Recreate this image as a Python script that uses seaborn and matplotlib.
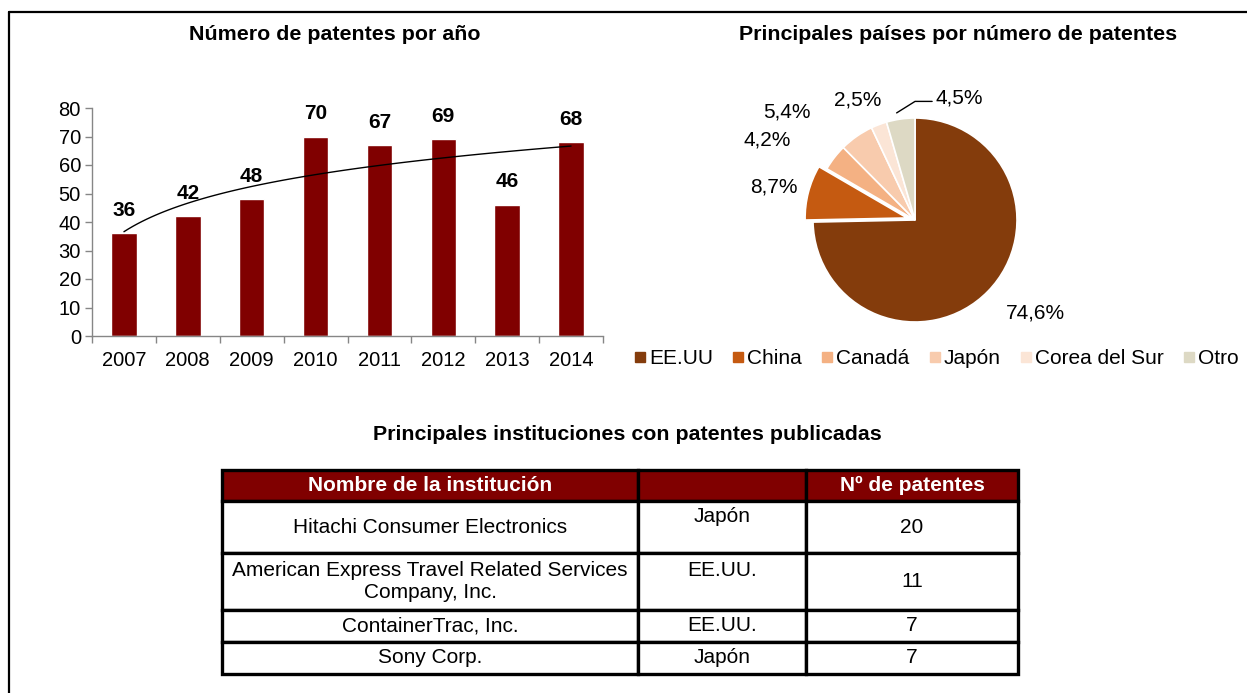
import numpy as np
import pandas as pd
import seaborn as sns
import matplotlib.pyplot as plt
from matplotlib.lines import Line2D

# Data
years = ['2007', '2008', '2009', '2010', '2011', '2012', '2013', '2014']
patents = [36, 42, 48, 70, 67, 69, 46, 68]

countries = ['EE.UU', 'China', 'Canadá', 'Japón', 'Corea del Sur', 'Otro']
country_share = [74.6, 8.7, 4.2, 5.4, 2.5, 4.5]
country_colors = ['#843C0C', '#C55A11', '#F4B183', '#F8CBAD', '#FBE5D6', '#DDD9C4']

inst_names = ['Hitachi Consumer Electronics',
              'American Express Travel Related Services\nCompany, Inc.',
              'ContainerTrac, Inc.', 'Sony Corp.']
inst_country = ['Japón', 'EE.UU.', 'EE.UU.', 'Japón']
inst_patents = [20, 11, 7, 7]
table_header = ['Nombre de la institución', '', 'Nº de patentes']

sns.set_theme(style="white")
plt.rcParams['font.family'] = ['Liberation Sans', 'DejaVu Sans']
plt.rcParams['text.color'] = 'black'

W, H = 1247, 693
fig = plt.figure(figsize=(W / 100, H / 100), dpi=100)

def box(l, t, w, h):
    return [l / W, 1 - (t + h) / H, w / W, h / H]

TITLE_FS = 15.4
FS = 15

# outer frame
fig.add_artist(Line2D([9 / W, 9 / W], [0, 1 - 12 / H], color='black', lw=1.6))
fig.add_artist(Line2D([9 / W, 1], [1 - 12 / H, 1 - 12 / H], color='black', lw=1.6))

# 1. Bar chart
df = pd.DataFrame({'year': years, 'patents': patents})
ax1 = fig.add_axes(box(92, 108, 511, 228))
sns.barplot(x='year', y='patents', data=df, color='#800000', width=0.4,
            saturation=1, ax=ax1)
ax1.set_xlim(-0.5, len(years) - 0.5)
ax1.set_ylim(0, 80)
ax1.set_yticks(range(0, 81, 10))
ax1.set_xlabel('')
ax1.set_ylabel('')
for s in ['top', 'right']:
    ax1.spines[s].set_visible(False)
for s in ['left', 'bottom']:
    ax1.spines[s].set_color('#868686')
    ax1.spines[s].set_linewidth(1)
ax1.set_xticks(np.arange(-0.5, len(years)), minor=True)
ax1.tick_params(axis='x', which='major', length=0, pad=11, labelsize=14.5, labelcolor='black')
ax1.tick_params(axis='x', which='minor', bottom=True, length=5, color='#868686', width=1)
ax1.tick_params(axis='y', left=True, length=5, color='#868686', width=1, pad=3,
                labelsize=14.5, labelcolor='black')
for i, v in enumerate(patents):
    ax1.annotate(str(v), (i, v), xytext=(0, 16.5), textcoords='offset points',
                 ha='center', va='center', fontsize=FS, fontweight='bold')

# logarithmic trend line
xi = np.arange(1, len(patents) + 1)
b, a = np.polyfit(np.log(xi), patents, 1)
xs = np.linspace(1, len(patents), 100)
ax1.plot(xs - 1, a + b * np.log(xs), color='black', lw=1)

fig.text(335 / W, 1 - 34 / H, 'Número de patentes por año', ha='center', va='center',
         fontsize=TITLE_FS, fontweight='bold')

# 2. Pie chart
R = 102
ax2 = fig.add_axes(box(915 - 150, 220 - 150, 300, 300))
explode = [0, 0.08, 0, 0, 0, 0]
wedges, _ = ax2.pie(country_share, colors=country_colors, startangle=90,
                    counterclock=False, explode=explode, radius=1,
                    wedgeprops=dict(edgecolor='white', linewidth=1.2))
lim = 150 / R
ax2.set_xlim(-lim, lim)
ax2.set_ylim(-lim, lim)
ax2.set_aspect('equal')
ax2.axis('off')

label_pos = [(1.18, -0.91), (-1.38, 0.32), (-1.45, 0.78), (-1.26, 1.06), (-0.56, 1.18)]
for v, (x, y) in zip(country_share[:5], label_pos):
    ax2.text(x, y, f'{v:.1f}%'.replace('.', ','), ha='center', va='center', fontsize=FS)
ax2.annotate(f'{country_share[5]:.1f}%'.replace('.', ','), xy=(-0.18, 1.05),
             xytext=(0.2, 1.2), ha='left', va='center', fontsize=FS,
             arrowprops=dict(arrowstyle='-', color='black', lw=1, shrinkA=0, shrinkB=0,
                             relpos=(0, 0.3),
                             connectionstyle='angle,angleA=0,angleB=32,rad=0'))

fig.text(958 / W, 1 - 34 / H, 'Principales países por número de patentes', ha='center',
         va='center', fontsize=TITLE_FS, fontweight='bold')

handles = [Line2D([], [], marker='s', ls='', color=c, markersize=7.5) for c in country_colors]
fig.legend(handles, countries, loc='center left', bbox_to_anchor=(634 / W, 1 - 359 / H),
           ncol=6, frameon=False, fontsize=FS, handlelength=0.6, handletextpad=0.12,
           columnspacing=0.92, borderpad=0, borderaxespad=0)

# 3. Table
fig.text(627 / W, 1 - 434 / H, 'Principales instituciones con patentes publicadas',
         ha='center', va='center', fontsize=TITLE_FS, fontweight='bold')

ax3 = fig.add_axes(box(222, 470, 796, 204))
ax3.axis('off')
cells = [[n, c + '\n', str(p)] for n, c, p in zip(inst_names, inst_country, inst_patents)]
tbl = ax3.table(cellText=cells, colLabels=table_header, cellLoc='center',
                bbox=[0, 0, 1, 1])
tbl.auto_set_font_size(False)
col_w = [416, 168, 212]
row_h = [31, 52, 56, 32, 32]
for (r, c), cell in tbl.get_celld().items():
    cell.set_width(col_w[c])
    cell.set_height(row_h[r])
    cell.set_edgecolor('black')
    cell.set_linewidth(2.4)
    cell.get_text().set_fontsize(FS)
    cell.get_text().set_color('black')
    if r == 0:
        cell.set_facecolor('#800000')
        cell.get_text().set_color('white')
        cell.get_text().set_fontweight('bold')
    if r in (3, 4) and c == 1:
        cell.get_text().set_text(inst_country[r - 1])

fig.savefig('out.png', dpi=100)
